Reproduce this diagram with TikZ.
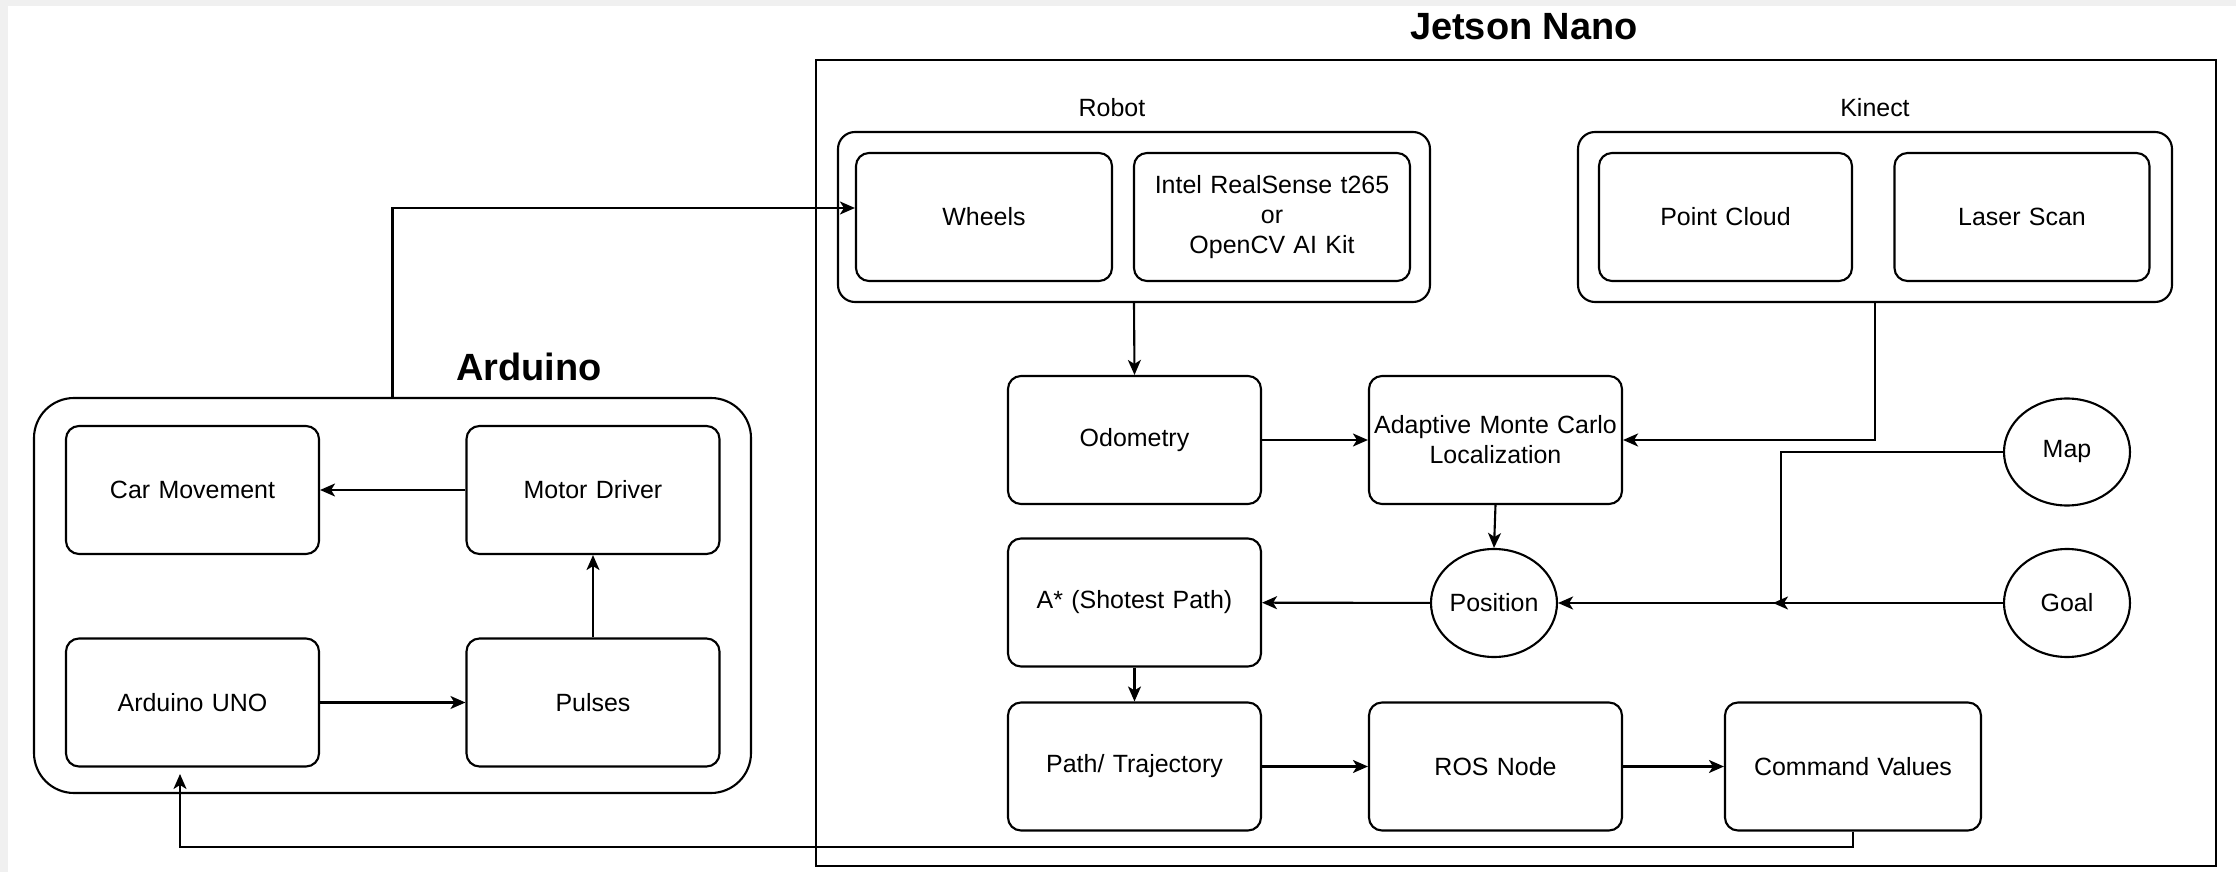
\documentclass[tikz,border=0pt]{standalone}
\usepackage{fontspec}
\setmainfont{Liberation Sans}
\usepackage{tikz}
\usetikzlibrary{shapes.geometric}
\usetikzlibrary{arrows.meta,positioning}
\definecolor{framegray}{HTML}{F0F0F0}
\tikzstyle{block} = [rectangle, draw, rounded corners=0.13cm, text width=2.48cm, text centered,
    inner sep=0.5pt, minimum width=2.53cm, minimum height=1.28cm, font=\fontsize{7.1}{8.5}\selectfont]
\tikzstyle{oval} = [ellipse, draw, inner sep=0pt, minimum width=1.26cm, minimum height=1.07cm,
    font=\fontsize{7.1}{8.5}\selectfont]
\tikzstyle{group} = [rectangle, draw, rounded corners=0.17cm, minimum width=5.92cm, minimum height=1.70cm]
\tikzstyle{title} = [font=\bfseries\fontsize{10.8}{13}\selectfont]
\tikzstyle{caption} = [font=\fontsize{7.1}{8.5}\selectfont]
\tikzstyle{line} = [draw, -{Stealth[length=0.15cm,width=0.13cm,inset=0.04cm]}]

\begin{document}
\begin{tikzpicture}[node distance=3.61cm,auto,line width=0.6pt]

    \fill[framegray] (0,0) rectangle (22.36,-8.72);
    \fill[white] (0.08,-0.06) rectangle (22.36,-8.72);
    \useasboundingbox (0,0) rectangle (22.36,-8.72);

    % Containers
    \node [draw, minimum width=14cm, minimum height=8.06cm] (jetson) at (15.16,-4.63) {};
    \node [title] (jetsontxt) at (15.24,-0.27) {Jetson Nano};
    \node [group, rounded corners=0.4cm, minimum width=7.17cm, minimum height=3.95cm] (arduino) at (3.925,-5.955) {};
    \node [title] (arduinotxt) at (5.29,-3.67) {Arduino};
    \node [group] (robot) at (11.34,-2.17) {};
    \node [caption] (robottxt) at (11.12,-1.08) {Robot};
    \node [group, minimum width=5.94cm] (kinect) at (18.75,-2.17) {};
    \node [caption] (kinecttxt) at (18.75,-1.08) {Kinect};

    % Arduino side
    \node [block] (car) at (1.925,-4.90) {Car Movement};
    \node [block, node distance=4.005cm, right of=car] (motor) {Motor Driver};
    \node [block] (uno) at (1.925,-7.025) {Arduino UNO};
    \node [block, node distance=4.005cm, right of=uno] (pulses) {Pulses};

    % Jetson side
    \node [block, minimum width=2.56cm] (wheels) at (9.84,-2.17) {Wheels};
    \node [block, minimum width=2.76cm, text width=2.6cm] (intel) at (12.72,-2.17) {Intel RealSense t265\\or\\OpenCV AI Kit};
    \node [block] (cloud) at (17.255,-2.17) {Point Cloud};
    \node [block, minimum width=2.55cm] (laser) at (20.22,-2.17) {Laser Scan};
    \node [block] (odom) at (11.345,-4.40) {Odometry};
    \node [block, right of=odom] (amcl) {Adaptive Monte Carlo\\Localization};
    \node [oval] (map) at (20.67,-4.52) {Map};
    \node [block] (astar) at (11.345,-6.025) {A* (Shotest Path)};
    \node [oval, minimum height=1.08cm] (pos) at (14.94,-6.03) {Position};
    \node [oval, minimum height=1.08cm] (goal) at (20.67,-6.03) {Goal};
    \node [block] (path) at (11.345,-7.665) {Path/ Trajectory};
    \node [block, right of=path] (ros) {ROS Node};
    \node [block, minimum width=2.56cm] (cmd) at (18.53,-7.665) {Command Values};
    \coordinate (jn) at (17.81,-6.03);
    \coordinate (fbend) at (1.80,-7.74);

    % Draw edges
    \path [line] (arduino.north) |- ([yshift=0.09cm]wheels.west);
    \path [line] (motor) -- (car);
    \path [line] (uno) -- (pulses);
    \path [line] (pulses) -- (motor);
    \path [line] (robot.south) -- (odom.north);
    \path [line] (odom) -- (amcl);
    \path [line] (kinect.south) |- (amcl.east);
    \path [line] (amcl.south) -- (pos.north);
    \path [line] (goal) -- (pos);
    \draw (map.west) -| (jn);
    \path [line] (jn) ++(0.09,0) -- ++(-0.17,0);
    \path [line] (pos) -- (astar);
    \path [line] (astar.south) -- (path.north);
    \path [line] (path) -- (ros);
    \path [line] (ros) -- (cmd);
    \path [line] (cmd.south) |- ++(0,-0.15) -| (fbend);

\end{tikzpicture}
\end{document}
